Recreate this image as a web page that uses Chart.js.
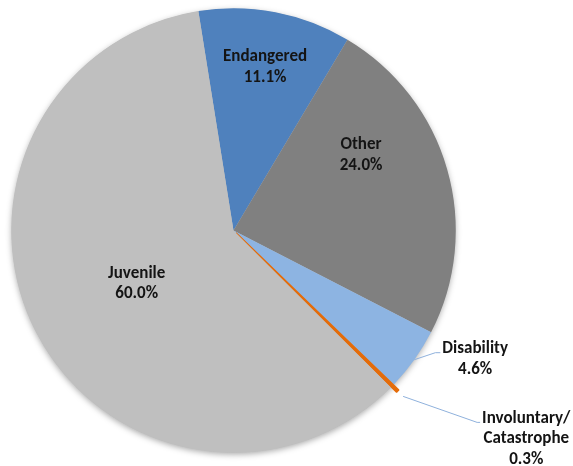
<!DOCTYPE html>
<html>
<head>
<meta charset="utf-8">
<script src="https://cdn.jsdelivr.net/npm/chart.js@4.4.0/dist/chart.umd.min.js"></script>
<style>
	html, body { margin: 0; padding: 0; background: #fff; }
</style>
</head>
<body>
<canvas id="myChart" width="573" height="466"></canvas>
<script>
// Data
const categories = ["Endangered", "Other", "Disability", "Involuntary/Catastrophe", "Juvenile"];
const labelLines = [["Endangered"], ["Other"], ["Disability"], ["Involuntary/", "Catastrophe"], ["Juvenile"]];
const shares = [11.1, 24.0, 4.6, 0.3, 60.0];

// Styling
const sliceColors = ["#4F81BD", "#808080", "#8DB4E2", "#E46C0A", "#BFBFBF"];
const sliceOffsets = [0, 0, 0, 15, 0];
const sliceBorders = [0, 0, 0, 1.5, 0];
const LABEL_FONT = "bold 17px Carlito, Lato, sans-serif";
const LINE = 20.5;

// where each label goes: inside (fraction of the slice angle + radius) or outside with a leader line
const labelPlace = [
	{ inside: true, at: 0.5, r: 0.752 },
	{ inside: true, at: 0.328, r: 0.668 },
	{ inside: false, elbow: [21, -7], tail: 5 },
	{ inside: false, elbow: [74, 26], tail: 3 },
	{ inside: true, at: 0.494, r: 0.495 },
];

// soft shadow under the whole pie
const pieShadow = {
	id: "pieShadow",
	beforeDatasetsDraw(chart) {
		const arc = chart.getDatasetMeta(0).data[0];
		const { x, y, outerRadius } = arc.getProps(["x", "y", "outerRadius"], true);
		const ctx = chart.ctx;
		ctx.save();
		ctx.shadowColor = "rgba(0,0,0,0.35)";
		ctx.shadowBlur = 6;
		ctx.shadowOffsetY = 2;
		ctx.fillStyle = "#BFBFBF";
		ctx.beginPath();
		ctx.arc(x, y, outerRadius - 0.5, 0, Math.PI * 2);
		ctx.fill();
		ctx.restore();
	},
};

const sliceLabels = {
	id: "sliceLabels",
	afterDatasetsDraw(chart) {
		const ctx = chart.ctx;
		const meta = chart.getDatasetMeta(0);
		ctx.save();
		ctx.font = LABEL_FONT;
		ctx.fillStyle = "#141414";
		ctx.textBaseline = "alphabetic";
		ctx.textAlign = "center";
		meta.data.forEach((arc, i) => {
			const { x, y, startAngle, endAngle, outerRadius } = arc.getProps(
				["x", "y", "startAngle", "endAngle", "outerRadius"], true);
			const place = labelPlace[i];
			const lines = [...labelLines[i], shares[i].toFixed(1) + "%"];
			if (place.inside) {
				const a = startAngle + place.at * (endAngle - startAngle);
				const px = x + Math.cos(a) * place.r * outerRadius;
				const py = y + Math.sin(a) * place.r * outerRadius;
				const top = py - ((lines.length - 1) * LINE) / 2 + 5;
				lines.forEach((t, k) => ctx.fillText(t, px, top + k * LINE));
			} else {
				const mid = (startAngle + endAngle) / 2;
				const off = arc.options.offset || 0;
				const ex = x + Math.cos(mid) * (outerRadius + off);
				const ey = y + Math.sin(mid) * (outerRadius + off);
				const bx = ex + place.elbow[0];
				const by = ey + place.elbow[1];
				const tx = bx + place.tail;
				ctx.strokeStyle = "#8FB1DC";
				ctx.lineWidth = 1;
				ctx.beginPath();
				ctx.moveTo(ex, ey);
				ctx.lineTo(bx, by);
				ctx.lineTo(tx, by);
				ctx.stroke();
				const w = Math.max(...lines.map((t) => ctx.measureText(t).width));
				const cx = tx + 2 + w / 2;
				lines.forEach((t, k) => ctx.fillText(t, cx, by + 0.5 + k * LINE));
			}
		});
		ctx.restore();
	},
};

new Chart(document.getElementById("myChart"), {
	type: "pie",
	data: {
		labels: categories,
		datasets: [
			{
				data: shares,
				backgroundColor: sliceColors,
				borderColor: sliceColors,
				borderWidth: sliceBorders,
				offset: sliceOffsets,
			},
		],
	},
	options: {
		responsive: false,
		animation: false,
		events: [],
		rotation: -9.1,
		layout: { padding: { top: 0, bottom: 5, left: 3, right: 109 } },
		plugins: {
			legend: { display: false },
			tooltip: { enabled: false },
		},
	},
	plugins: [pieShadow, sliceLabels],
});
</script>
</body>
</html>
